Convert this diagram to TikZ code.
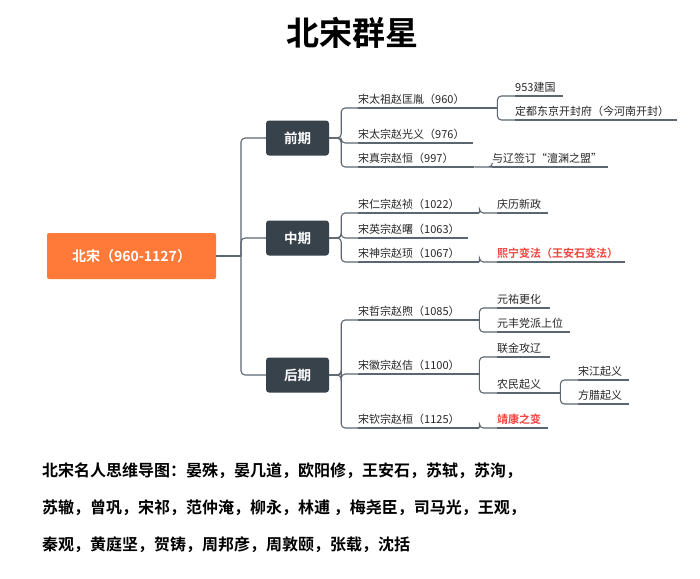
\documentclass[tikz,border=0pt]{standalone}
\usepackage{fontspec}
\usepackage{tikz}
\usetikzlibrary{positioning}
\newfontfamily\cjk{Noto Sans CJK SC}[BoldFont={Noto Sans CJK SC Bold}]
\definecolor{rootorange}{HTML}{FF7A38}
\definecolor{boxdark}{HTML}{37424B}
\definecolor{linegrey}{HTML}{5C6670}
\definecolor{hotred}{HTML}{F2453F}
\tikzset{link/.style = {draw=linegrey, line width=1.1pt, rounded corners=4pt},
         rootbox/.style = {fill=rootorange, rounded corners=2pt, text=white,
                           font=\cjk\bfseries\fontsize{14}{16}\selectfont,
                           minimum width=169pt, minimum height=46pt},
         periodbox/.style = {fill=boxdark, rounded corners=3pt, text=white,
                             font=\cjk\bfseries\fontsize{13.5}{16}\selectfont,
                             minimum width=63pt, minimum height=35pt},
         topic/.style = {anchor=south west, inner xsep=0pt, inner ysep=3pt,
                         text width=#1, align=left, text=black!85,
                         font=\cjk\fontsize{11}{12}\selectfont,
                         append after command={(\tikzlastnode.south west)
                           edge[draw=linegrey, line width=1.1pt] (\tikzlastnode.south east)}},
         hot/.style = {text=hotred, font=\cjk\bfseries\fontsize{11}{12}\selectfont},
         roster/.style = {anchor=west, inner sep=0pt,
                          font=\cjk\bfseries\fontsize{16}{18}\selectfont}}

\begin{document}
\begin{tikzpicture}[x=1pt, y=-1pt]
  \useasboundingbox[fill=white] (0,0) rectangle (700,578);

  \node[font=\cjk\bfseries\fontsize{33}{38}\selectfont] (title) at (352,33) {北宋群星};

  % root and periods
  \node[rootbox] (root) at (131.5,256) {北宋（960-1127）};
  \node[periodbox] (qianqi) at (297.5,138) {前期};
  \node[periodbox] (zhongqi) at (297.5,238) {中期};
  \node[periodbox] (houqi) at (297.5,375) {后期};
  \coordinate (trunk) at (241,256);
  \draw[link] (root.east) -- (trunk);
  \foreach \p in {qianqi, zhongqi, houqi}
    \draw[link] (trunk) |- (\p.west);

  % early period
  \node[topic=139pt] (taizu) at (358,108) {宋太祖赵匡胤（960）};
  \node[topic=115pt] (taizong) at (358,143) {宋太宗赵光义（976）};
  \node[topic=116pt] (zhenzong) at (358,167) {宋真宗赵恒（997）};
  \node[topic=48pt] (jianguo) at (515,96) {953建国};
  \node[topic=162pt] (dingdu) at (515,120) {定都东京开封府（今河南开封）};
  \node[topic=116pt] (chanyuan) at (492,167) {与辽签订“澶渊之盟”};
  \foreach \c in {taizu, taizong, zhenzong}
    \draw[link] (qianqi.east) -- ++(12,0) |- (\c.south west);
  \foreach \c in {jianguo, dingdu}
    \draw[link] (taizu.south east) |- (\c.south west);
  \draw[link] (zhenzong.south east) -- ++(18,0) |- (chanyuan.south west);

  % middle period
  \node[topic=121pt] (renzong) at (358,213) {宋仁宗赵祯（1022）};
  \node[topic=110pt] (yingzong) at (358,238) {宋英宗赵曙（1063）};
  \node[topic=121pt] (shenzong) at (358,262) {宋神宗赵顼（1067）};
  \node[topic=51pt] (qingli) at (497,213) {庆历新政};
  \node[topic=128pt, hot] (xining) at (497,262) {熙宁变法（王安石变法）};
  \foreach \c in {renzong, yingzong, shenzong}
    \draw[link] (zhongqi.east) -- ++(12,0) |- (\c.south west);
  \draw[link] (renzong.south east) |- (qingli.south west);
  \draw[link] (shenzong.south east) |- (xining.south west);

  % late period
  \node[topic=121pt] (zhezong) at (358,320) {宋哲宗赵煦（1085）};
  \node[topic=121pt] (huizong) at (358,374) {宋徽宗赵佶（1100）};
  \node[topic=121pt] (qinzong) at (358,428) {宋钦宗赵桓（1125）};
  \node[topic=53pt] (yuanyou) at (497,308) {元祐更化};
  \node[topic=73pt] (yuanfeng) at (497,332) {元丰党派上位};
  \node[topic=53pt] (lianjin) at (497,357) {联金攻辽};
  \node[topic=63pt] (nongmin) at (497,393) {农民起义};
  \node[topic=51pt] (songjiang) at (578,380) {宋江起义};
  \node[topic=51pt] (fangla) at (578,404) {方腊起义};
  \node[topic=51pt, hot] (jingkang) at (497,428) {靖康之变};
  \foreach \c in {zhezong, huizong, qinzong}
    \draw[link] (houqi.east) -- ++(12,0) |- (\c.south west);
  \foreach \c in {yuanyou, yuanfeng}
    \draw[link] (zhezong.south east) |- (\c.south west);
  \foreach \c in {lianjin, nongmin}
    \draw[link] (huizong.south east) |- (\c.south west);
  \foreach \c in {songjiang, fangla}
    \draw[link] (nongmin.south east) |- (\c.south west);
  \draw[link] (qinzong.south east) |- (jingkang.south west);

  % famous people
  \node[roster] (line1) at (42,471) {北宋名人思维导图：晏殊，晏几道，欧阳修，王安石，苏轼，苏洵，};
  \node[roster] (line2) at (42,508) {苏辙，曾巩，宋祁，范仲淹，柳永，林逋 ，梅尧臣，司马光，王观，};
  \node[roster] (line3) at (42,545) {秦观，黄庭坚，贺铸，周邦彦，周敦颐，张载，沈括};
\end{tikzpicture}
\end{document}
